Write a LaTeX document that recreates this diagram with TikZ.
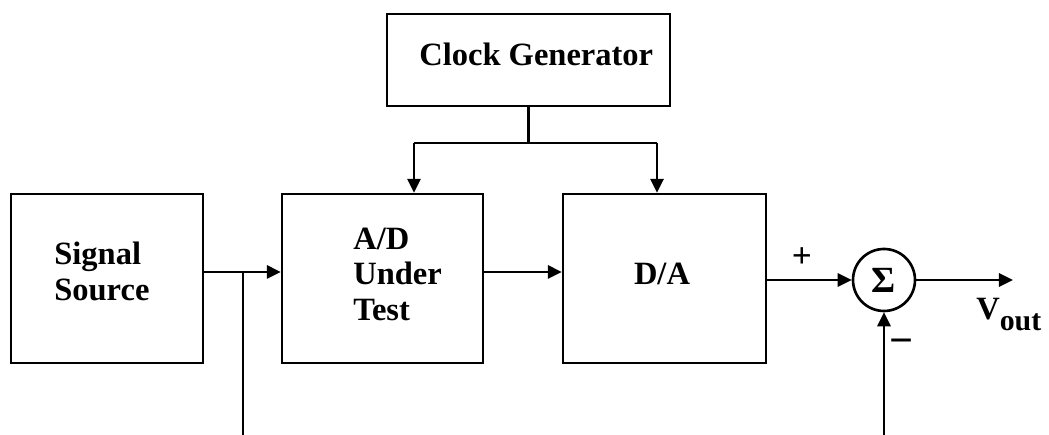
\documentclass[tikz,border=0pt]{standalone}
\usepackage{fontspec}
\setmainfont{Liberation Serif}
\usetikzlibrary{arrows.meta}

\begin{document}
\begin{tikzpicture}[
    font=\fontsize{18.5}{20}\selectfont\bfseries,
    line width=1.5pt,
    >={Triangle[length=8pt,width=7.5pt]},
    block/.style={draw, rectangle, line width=1.3pt, minimum height=3.38cm},
    txt/.style={inner sep=0pt, align=left}]

        \useasboundingbox (0,0) rectangle (20.98,8.7);

        \begin{scope}[every node/.style={block}]
          \node[minimum width=5.66cm, minimum height=1.84cm] (clock) at (10.57,7.5) {};
          \node[minimum width=3.84cm] (src) at (2.14,3.13)  {};
          \node[minimum width=4.02cm] (adc) at (7.65,3.13)  {};
          \node[minimum width=4.06cm] (dac) at (13.29,3.13) {};
        \end{scope}
        \node[draw, circle, minimum size=1.24cm, inner sep=0pt,
              font=\fontsize{21}{21}\selectfont\bfseries] (sum) at (17.68,3.10) {Σ};

        \begin{scope}[every node/.style={txt}]
          \node[anchor=base west] (clocktxt) at (8.36,7.38) {Clock Generator};
          \node[anchor=north west] (srctxt) at (1.06,3.88) {Signal\\Source};
          \node[anchor=north west] (adctxt) at (7.04,4.16) {A/D\\Under\\Test};
          \node[anchor=base] (dactxt) at (13.24,3.0) {D/A};
          \node[anchor=base west] (vout) at (19.5,2.3) {V\raisebox{-6pt}{\fontsize{17}{17}\selectfont out}};
          \node[font=\fontsize{20}{20}\selectfont\bfseries] (plus) at (16.04,3.54) {+};
          \node[font=\fontsize{24}{24}\selectfont\bfseries] (minus) at (18.04,1.76) {−};
        \end{scope}

        % tap on the input line and the free ends
        \coordinate (tap)    at (4.86,3.26);
        \coordinate (tapend) at (4.86,0);
        \coordinate (fbend)  at (sum.south |- tapend);
        \coordinate (out)    at (20.26,3.10);
        \coordinate (clkjoin) at (10.57,5.84);
        \coordinate (clkl)   at (8.28,5.84);
        \coordinate (clkr)   at (13.14,5.84);

        \draw[->] (src.east |- tap) -- (adc.west |- tap);
        \draw (tap) -- (tapend);
        \draw[->] (adc.east |- tap) -- (dac.west |- tap);
        \draw[->] (dac.east |- sum) -- (sum.west);
        \draw[->] (sum.east) -- (out);
        \draw[->] (fbend) -- (sum.south);

        \draw (clock.south) -- (clkjoin);
        \draw[->] (clkl) -- (clkl |- adc.north);
        \draw (clkl) -- (clkr);
        \draw[->] (clkr) -- (clkr |- dac.north);

      \end{tikzpicture}
\end{document}
